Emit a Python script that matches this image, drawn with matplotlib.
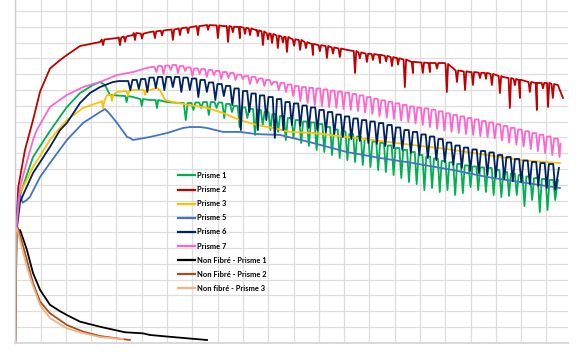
import numpy as np
import matplotlib
matplotlib.use("Agg")
import matplotlib.pyplot as plt
from matplotlib.ticker import MultipleLocator

# ---------------- data (grid units) ----------------
labels = ["Prisme 1", "Prisme 2", "Prisme 3", "Prisme 5", "Prisme 6", "Prisme 7",
          "Non Fibré - Prisme 1", "Non Fibré - Prisme 2", "Non fibré - Prisme 3"]
colors = ["#00B050", "#C00000", "#FFC000", "#4472C4", "#002060", "#FF66CC",
          "#000000", "#A0501E", "#F4B183"]

# Prisme 1 (green)
green_x = [0.0, 0.11, 0.25, 0.70, 1.37, 2.04, 2.56, 3.07, 3.35, 3.55, 3.74, 4.65, 5.32, 6.0]
green_y = [6.4, 8.9, 9.66, 11.75, 13.4, 14.92, 15.8, 16.31, 16.5, 16.3, 15.68, 15.55, 15.36, 15.23]
green_dip_x = [4.4, 5.0, 5.6]
green_dip_top = [15.61, 15.42, 15.36]
green_dip_bot = [15.23, 14.98, 14.86]
green_tooth_x0, green_tooth_dx = 6.51, 0.3043
green_tops = [15.17, 15.17, 15.20, 15.23, 15.23, 15.20, 15.11, 14.98, 14.89, 14.79,
              14.73, 14.60, 14.47, 14.35, 14.22, 14.09, 14.00, 13.94, 13.84, 13.65,
              13.49, 13.37, 13.21, 13.05, 12.89, 12.73, 12.64, 12.48, 12.32, 12.20,
              12.07, 11.88, 11.78, 11.66, 11.50, 11.41, 11.31, 11.22, 11.15, 11.09,
              11.06, 10.93, 10.80, 10.71, 10.61, 10.52, 10.42, 10.36, 10.30]
green_bots = [14.09, 14.73, 14.86, 14.41, 14.86, 14.22, 14.60, 13.65, 14.22, 13.15,
              13.78, 13.46, 13.34, 12.83, 12.96, 12.64, 12.45, 12.20, 12.07, 11.88,
              11.69, 11.56, 11.44, 11.25, 11.12, 10.93, 10.80, 10.61, 10.42, 10.17,
              10.04, 9.66, 9.79, 9.54, 9.66, 9.35, 9.47, 9.85, 9.66, 9.54,
              9.35, 9.22, 9.29, 9.35, 8.65, 9.03, 8.27, 8.40, 9.03]
green_end_x, green_end_y = [21.45], [10.3]

# Prisme 2 (red)
red_x = [0.0, 0.12, 0.38, 0.70, 0.98, 1.37, 1.77, 2.04, 2.56, 3.35,
         4.02, 4.65, 5.32, 6.0, 6.63, 7.3, 7.58, 8.21, 8.88, 9.55,
         10.19, 10.86, 11.77, 12.44, 13.11, 13.74, 14.42, 15.09, 15.72, 16.39,
         16.98, 17.1, 17.97, 18.64, 19.28, 19.95, 20.62, 21.02, 21.45, 21.65]
red_y = [6.4, 9.87, 12.18, 14.09, 15.9, 17.35, 17.89, 18.21, 18.78, 19.03,
         19.28, 19.47, 19.66, 19.79, 19.92, 20.04, 20.11, 20.04, 19.98, 19.79,
         19.47, 19.28, 18.90, 18.72, 18.53, 18.34, 18.21, 18.02, 17.77, 17.70,
         17.70, 17.30, 17.13, 17.07, 16.82, 16.63, 16.44, 16.44, 16.31, 15.49]
red_dip_x = [3.47, 4.14, 4.73, 5.52, 6.23, 6.51, 7.22, 8.01, 8.41, 8.88,
             9.28, 9.79, 10.15, 10.38, 10.74, 11.26, 11.77, 12.32, 12.83, 13.43,
             13.90, 14.42, 14.89, 15.40, 15.72, 16.11, 16.39, 17.06, 17.46, 17.78,
             18.09, 18.84, 19.16, 19.55, 19.95, 20.34, 20.62, 21.06, 21.25,
             4.34, 5.01, 5.80, 6.83, 7.62, 8.60, 9.08, 9.59, 9.99, 10.58,
             11.02, 11.49, 12.04, 12.56, 13.62, 14.14, 14.66, 15.13, 16.67, 18.37,
             18.61, 19.75, 20.86]
red_dip_top = [19.19, 19.32, 19.60, 19.70, 19.82, 19.89, 20.04, 20.08, 20.04, 19.98,
               19.89, 19.70, 19.54, 19.44, 19.35, 19.16, 18.90, 18.78, 18.62, 18.46,
               18.30, 18.21, 18.08, 17.92, 17.77, 17.73, 17.70, 17.64, 17.23, 17.17,
               17.13, 17.01, 16.88, 16.75, 16.63, 16.50, 16.44, 16.44, 16.37,
               19.38, 19.56, 19.75, 19.95, 20.10, 20.00, 19.93, 19.77, 19.58, 19.36,
               19.20, 19.02, 18.83, 18.69, 18.37, 18.27, 18.15, 18.00, 17.70, 17.09,
               17.07, 16.69, 16.44]
red_dip_bot = [18.84, 18.84, 19.16, 19.28, 19.16, 19.47, 19.47, 19.28, 19.03, 19.28,
               19.47, 18.84, 18.97, 18.65, 18.40, 18.53, 18.21, 18.02, 18.08, 17.07,
               17.77, 17.70, 17.51, 16.18, 17.07, 17.07, 17.13, 15.87, 16.50, 15.99,
               16.31, 16.31, 15.80, 14.86, 15.49, 15.87, 14.73, 14.92, 15.49,
               19.05, 19.25, 19.45, 19.60, 19.80, 19.65, 19.55, 19.40, 19.20, 19.00,
               18.80, 18.65, 18.45, 18.30, 18.00, 17.90, 17.80, 17.60, 17.35, 16.75,
               16.70, 16.30, 16.10]

# Prisme 3 (yellow)
yellow_x = [0.0, 0.19, 0.70, 1.37, 1.69, 2.04, 2.68, 3.35, 3.63, 4.02,
            4.65, 5.32, 5.6, 5.72, 5.92, 6.23, 6.9, 7.58, 8.21, 8.88,
            9.55, 10.19, 10.86, 11.77, 13.11, 14.42, 15.72, 16.39, 17.3, 18.64,
            19.95, 21.53]
yellow_y = [6.4, 9.47, 11.12, 12.83, 13.46, 14.09, 14.86, 15.23, 15.68, 15.87,
            15.99, 15.99, 16.12, 15.99, 15.36, 15.23, 15.04, 14.86, 14.54, 14.09,
            13.78, 13.59, 13.34, 13.27, 13.02, 12.77, 12.51, 12.39, 12.2, 11.88,
            11.56, 11.37]
yellow_dip_x = [3.47, 3.82, 4.45, 5.13]
yellow_dip_top = [15.30, 15.68, 15.93, 15.99]
yellow_dip_bot = [14.86, 15.30, 15.61, 15.68]

# Prisme 5 (blue)
blue_x = [0.0, 0.12, 0.19, 0.29, 0.45, 0.58, 0.98, 1.37, 2.04, 2.68,
          3.35, 3.55, 3.74, 4.02, 4.42, 4.54, 4.65, 5.32, 6.0, 6.63,
          6.9, 7.3, 7.58, 8.21, 8.88, 9.55, 10.46, 11.77, 13.11, 14.42,
          15.72, 16.39, 17.3, 18.64, 19.95, 21.53]
blue_y = [6.4, 9.1, 9.35, 8.86, 9.03, 9.24, 10.49, 11.37, 12.83, 13.91,
          14.6, 14.79, 14.47, 13.91, 13.02, 12.96, 12.83, 13.02, 13.27, 13.59,
          13.65, 13.65, 13.59, 13.34, 13.34, 13.2, 13.15, 12.64, 12.07, 11.69,
          11.37, 11.18, 10.93, 10.49, 10.17, 9.79]

# Prisme 6 (navy)
navy_x = [0.0, 0.19, 0.70, 1.37, 1.77, 2.04, 2.56, 2.95, 3.35, 3.86, 4.1]
navy_y = [6.4, 8.93, 10.74, 12.39, 13.46, 13.91, 15.17, 15.8, 16.18, 16.5, 16.56]
navy_tooth_x0, navy_tooth_dx = 4.296, 0.336
navy_tops = [16.56, 16.63, 16.69, 16.78, 16.82, 16.82, 16.82, 16.78, 16.72, 16.63,
             16.47, 16.37, 16.25, 16.09, 15.93, 15.77, 15.65, 15.55, 15.42, 15.23,
             15.14, 15.01, 14.89, 14.73, 14.60, 14.44, 14.32, 14.19, 14.09, 14.00,
             13.90, 13.78, 13.62, 13.46, 13.34, 13.18, 13.05, 12.89, 12.67, 12.48,
             12.35, 12.23, 12.13, 12.04, 11.88, 11.75, 11.63, 11.53, 11.44, 11.37,
             11.31]
navy_bots = [15.99, 16.06, 15.87, 16.12, 15.99, 16.18, 15.87, 15.99, 15.55, 15.87,
             15.36, 15.61, 15.04, 13.46, 14.60, 13.46, 14.09, 12.96, 13.46, 13.78,
             13.72, 13.59, 13.46, 13.34, 13.21, 13.02, 12.89, 12.77, 12.64, 12.58,
             12.45, 12.32, 12.20, 12.01, 11.88, 11.69, 11.56, 11.44, 11.25, 11.06,
             10.87, 10.74, 10.61, 10.49, 10.36, 10.23, 10.17, 10.04, 9.92, 9.79,
             9.66]
navy_end_x, navy_end_y = [21.49], [11.06]

# Prisme 7 (pink)
pink_x = [0.0, 0.19, 0.50, 0.70, 0.85, 1.37, 2.03, 2.68, 3.35, 4.02, 4.65, 5.2]
pink_y = [6.4, 9.87, 11.69, 12.83, 13.46, 14.92, 15.67, 16.18, 16.5, 16.94, 17.13, 17.39]
pink_tooth_x0, pink_tooth_dx = 5.364, 0.2846
pink_tops = [17.45, 17.51, 17.54, 17.58, 17.51, 17.42, 17.36, 17.32, 17.26, 17.20,
             17.13, 17.07, 16.97, 16.88, 16.82, 16.72, 16.63, 16.50, 16.44, 16.34,
             16.24, 16.18, 16.13, 16.09, 16.03, 15.95, 15.89, 15.82, 15.74, 15.65,
             15.55, 15.44, 15.34, 15.25, 15.15, 15.05, 14.95, 14.88, 14.83, 14.75,
             14.64, 14.52, 14.41, 14.32, 14.22, 14.13, 14.03, 13.94, 13.83, 13.72,
             13.60, 13.49, 13.38, 13.27, 13.16, 13.05, 12.92]
pink_bots = [17.13, 17.01, 17.26, 17.07, 17.20, 16.88, 17.01, 16.82, 16.94, 16.69,
             16.75, 16.63, 16.69, 16.37, 16.44, 16.25, 16.31, 15.99, 15.87, 15.61,
             15.30, 15.17, 15.04, 14.98, 14.92, 14.86, 14.79, 14.73, 14.66, 14.57,
             14.48, 14.35, 14.25, 14.16, 14.06, 13.97, 13.88, 13.78, 13.65, 13.53,
             13.43, 13.34, 13.27, 13.21, 13.15, 13.08, 13.02, 12.93, 12.80, 12.67,
             12.54, 12.42, 12.26, 12.13, 12.01, 11.88, 11.75]
pink_end_x, pink_end_y = [21.55], [12.6]

# Non fibré series
black_x = [0.0, 0.05, 0.19, 0.46, 0.70, 0.98, 1.37, 1.77, 2.04, 2.56, 3.35, 4.34, 5.05, 5.32, 6.0, 7.58]
black_y = [0.0, 6.9, 7.13, 5.87, 4.41, 3.34, 2.4, 1.99, 1.75, 1.33, 1.01, 0.66, 0.59, 0.49, 0.39, 0.17]
brown_x = [0.0, 0.04, 0.11, 0.46, 0.70, 0.98, 1.37, 2.04, 2.68, 3.35, 4.53]
brown_y = [0.0, 6.9, 7.26, 5.23, 3.78, 2.6, 1.86, 1.12, 0.70, 0.42, 0.17]
orange_x = [0.0, 0.02, 0.06, 0.46, 0.66, 0.98, 1.37, 2.04, 2.68, 3.35, 4.26]
orange_y = [0.0, 7.0, 7.26, 4.79, 3.78, 2.39, 1.56, 0.91, 0.61, 0.36, 0.23]

# ---------------- assembly ----------------
DIP_W = 0.05
SHAPE = (0.5, 0.75)


def assemble(bx, by, dx=(), dt=(), db=(), x0=None, step=None, tops=(), bots=(),
             ex=(), ey=()):
    pts = list(zip(bx, by))
    for x, t, b in zip(dx, dt, db):
        pts += [(x - DIP_W, t), (x, b), (x + DIP_W, t)]
    pts.sort()
    for i, (t, b) in enumerate(zip(tops, bots)):
        x = x0 + i * step
        pts += [(x, t), (x + SHAPE[0] * step, t), (x + SHAPE[1] * step, b)]
    pts += list(zip(ex, ey))
    arr = np.array(pts)
    return arr[:, 0], arr[:, 1]


series = [
    assemble(green_x, green_y, green_dip_x, green_dip_top, green_dip_bot,
             green_tooth_x0, green_tooth_dx, green_tops, green_bots, green_end_x, green_end_y),
    assemble(red_x, red_y, red_dip_x, red_dip_top, red_dip_bot),
    assemble(yellow_x, yellow_y, yellow_dip_x, yellow_dip_top, yellow_dip_bot),
    assemble(blue_x, blue_y),
    assemble(navy_x, navy_y, x0=navy_tooth_x0, step=navy_tooth_dx, tops=navy_tops,
             bots=navy_bots, ex=navy_end_x, ey=navy_end_y),
    assemble(pink_x, pink_y, x0=pink_tooth_x0, step=pink_tooth_dx, tops=pink_tops,
             bots=pink_bots, ex=pink_end_x, ey=pink_end_y),
    (np.array(black_x), np.array(black_y)),
    (np.array(brown_x), np.array(brown_y)),
    (np.array(orange_x), np.array(orange_y)),
]

# ---------------- figure ----------------
W, H = 580, 352
fig = plt.figure(figsize=(W / 100, H / 100), dpi=100)
ax = fig.add_axes([15.3 / W, 9.3 / H, (568 - 15.3) / W, 342.7 / H])

for (xs, ys), c, lab in zip(series, colors, labels):
    ax.plot(xs, ys, color=c, lw=1.3, label=lab)

ax.set_xlim(0, 21.85)
ax.set_ylim(0, 21.69)
ax.xaxis.set_major_locator(MultipleLocator(1))
ax.yaxis.set_major_locator(MultipleLocator(1))
ax.grid(True, color="#DDDDDD", lw=0.9)
ax.set_axisbelow(True)
ax.tick_params(length=0, labelbottom=False, labelleft=False)
for s in ["top", "right"]:
    ax.spines[s].set_visible(False)
ax.spines["left"].set_color("#D0D0D0")
ax.spines["left"].set_linewidth(1.0)
ax.spines["bottom"].set_color("#D9D9D9")
ax.spines["bottom"].set_linewidth(1.4)

leg = ax.legend(loc="upper left", bbox_to_anchor=(178 / W, 1 - 172 / H),
                bbox_transform=fig.transFigure, frameon=False,
                prop={"family": ["Lato", "DejaVu Sans"], "weight": "bold", "size": 5.4},
                handlelength=2.2, handletextpad=0.3, labelspacing=0.95,
                borderpad=0, borderaxespad=0)
for line in leg.get_lines():
    line.set_linewidth(1.6)

fig.savefig("out.png", dpi=100)
